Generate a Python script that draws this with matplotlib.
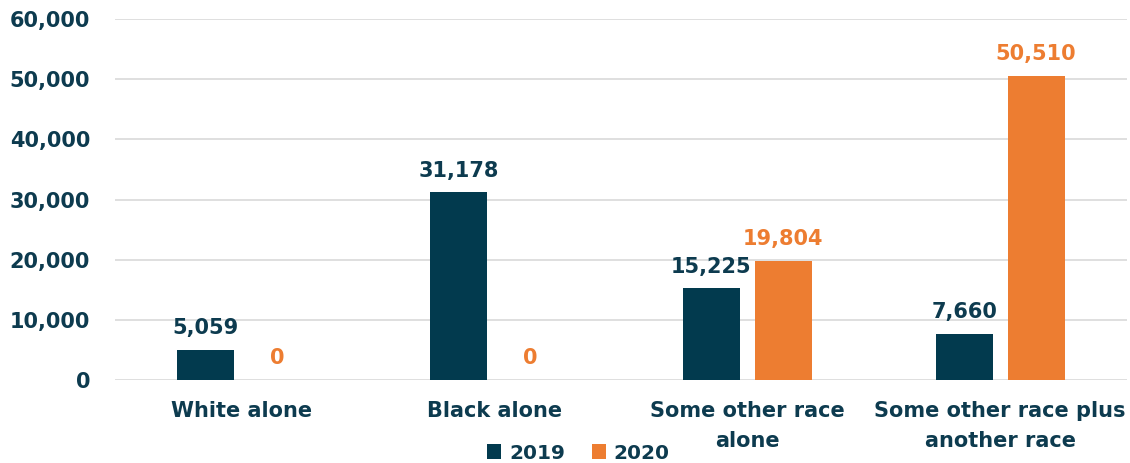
import matplotlib
matplotlib.use("Agg")
import matplotlib.pyplot as plt
import numpy as np

categories = ["White alone", "Black alone", "Some other race\nalone", "Some other race plus\nanother race"]
series_names = ["2019", "2020"]
values_2019 = [5059, 31178, 15225, 7660]
values_2020 = [0, 0, 19804, 50510]
yticks = [0, 10000, 20000, 30000, 40000, 50000, 60000]

c19 = "#023A4E"
c20 = "#ED7D31"
txt = "#0D3B4F"
font = "DejaVu Sans"
fs = 15

fig = plt.figure(figsize=(11.3, 4.63), dpi=100)
ax = fig.add_axes([0.1018, 0.179, 0.8952, 0.78])

x = np.arange(len(categories))
w = 0.225
off = 0.142
b1 = ax.bar(x - off, values_2019, w, color=c19, label=series_names[0], zorder=3)
b2 = ax.bar(x + off, values_2020, w, color=c20, label=series_names[1], zorder=3)

for rect, v in zip(b1, values_2019):
    ax.annotate(f"{v:,}", (rect.get_x() + rect.get_width() / 2, v), xytext=(0, 8.5),
                textcoords="offset points", ha="center", va="bottom",
                fontsize=fs, fontweight="bold", color=txt, family=font)
for rect, v in zip(b2, values_2020):
    ax.annotate(f"{v:,}", (rect.get_x() + rect.get_width() / 2, v), xytext=(0, 8.5),
                textcoords="offset points", ha="center", va="bottom",
                fontsize=fs, fontweight="bold", color=c20, family=font)

ax.set_xlim(-0.5, len(categories) - 0.5)
ax.set_ylim(0, 60000)
ax.set_yticks(yticks)
ax.set_yticklabels([f"{t:,}" for t in yticks], fontsize=fs, fontweight="bold", color=txt, family=font)
ax.set_xticks(x)
ax.set_xticklabels(categories, fontsize=fs, fontweight="bold", color=txt, family=font, linespacing=1.62)
ax.tick_params(axis="both", length=0)
ax.tick_params(axis="y", pad=18)
ax.tick_params(axis="x", pad=15)
ax.grid(axis="y", color="#D9D9D9", linewidth=1.2, zorder=0)
for s in ax.spines.values():
    s.set_visible(False)

leg = fig.legend(loc="lower center", bbox_to_anchor=(0.512, -0.012), ncol=2, frameon=False,
                 prop={"family": font, "weight": "bold", "size": 14.5},
                 handlelength=0.7, handleheight=0.7, handletextpad=0.4, columnspacing=1.3,
                 borderpad=0.1, borderaxespad=0.2)
for t in leg.get_texts():
    t.set_color(txt)

fig.savefig("out.png", dpi=100)
